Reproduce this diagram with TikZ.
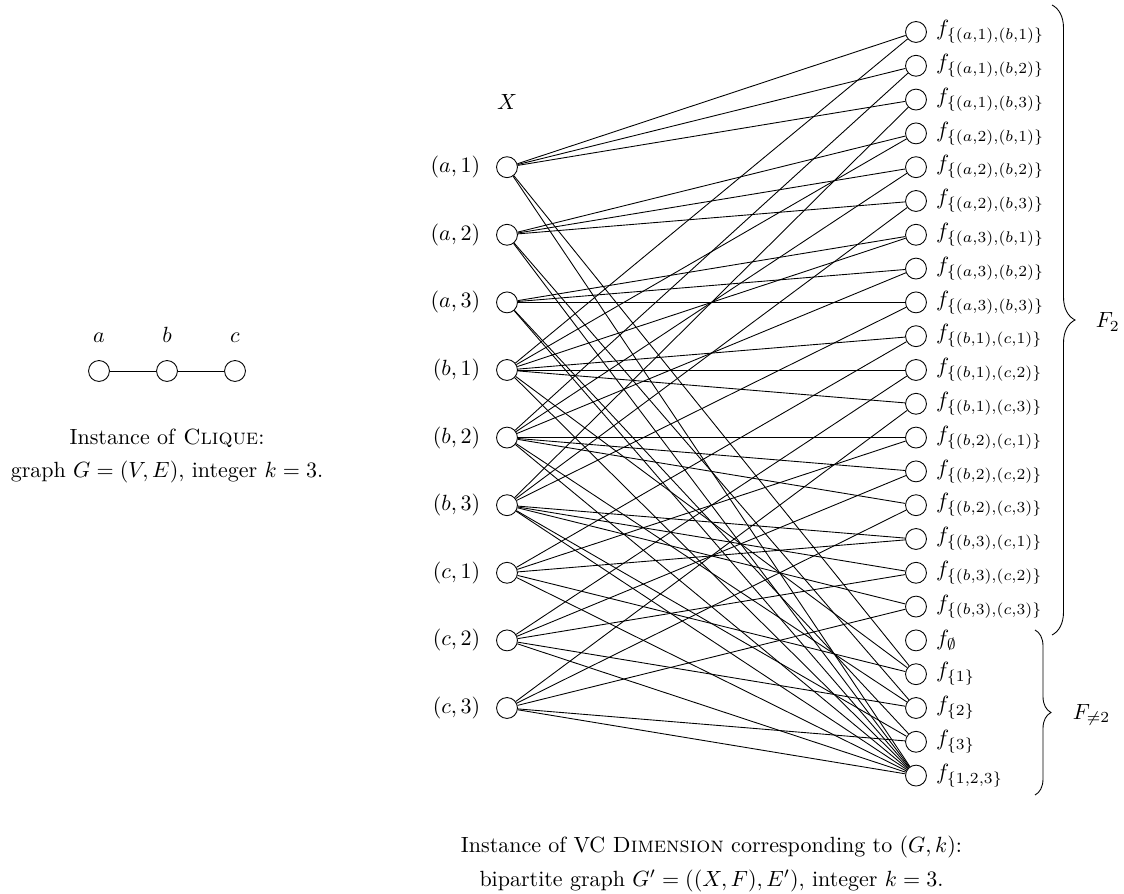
\documentclass[tikz,border=0pt]{standalone}
\usetikzlibrary{decorations.pathreplacing}
\begin{document}
\begin{tikzpicture}[x=0.4545pt,y=-0.4545pt,
  vert/.style={draw,circle,minimum size=9.5pt,inner sep=0pt},
  xlbl/.style={label distance=3.7pt},
  flbl/.style={label distance=0.7pt},
  glbl/.style={label distance=4.6pt},
  bracedeco/.style={decorate,decoration={brace,amplitude=#1}},
]
\useasboundingbox (0,0) rectangle (1124,894);

% ---- left: CLIQUE instance
\node[vert,label={[glbl]above:$a$}] (ga) at (99,371) {};
\node[vert,label={[glbl]above:$b$}] (gb) at (167,371) {};
\node[vert,label={[glbl]above:$c$}] (gc) at (235,371) {};
\draw (ga) -- (gb) -- (gc);
\node[align=center] (cap1) at (167,456)
  {Instance of \textsc{Clique}:\\[3pt] graph $G=(V,E)$, integer $k=3$.};

% ---- X side
\node (xlab) at (507,102) {$X$};
\foreach \c/\i/\r in {a/1/4,a/2/6,a/3/8,b/1/10,b/2/12,b/3/14,c/1/16,c/2/18,c/3/20}{
  \node[vert,label={[xlbl]left:$(\c,\i)$}] (\c\i) at (507,{32+33.8*\r}) {};
}

% ---- F_2 side
\foreach \u/\v/\k in {a/b/0,b/c/9}{
  \foreach \i in {1,2,3}{
    \foreach \j in {1,2,3}{
      \pgfmathsetmacro\r{\k+3*(\i-1)+\j-1}
      \node[vert,label={[flbl]right:$f_{\{(\u,\i),(\v,\j)\}}$}] (f\u\i\v\j) at (916,{32+33.8*\r}) {};
      \draw (\u\i) -- (f\u\i\v\j);
      \draw (\v\j) -- (f\u\i\v\j);
    }
  }
}

% ---- F_{\neq 2} side
\node[vert,label={[flbl]right:$f_\emptyset$}] (fe) at (916,{32+33.8*18}) {};
\node[vert,label={[flbl]right:$f_{\{1\}}$}] (f1) at (916,{32+33.8*19}) {};
\node[vert,label={[flbl]right:$f_{\{2\}}$}] (f2) at (916,{32+33.8*20}) {};
\node[vert,label={[flbl]right:$f_{\{3\}}$}] (f3) at (916,{32+33.8*21}) {};
\node[vert,label={[flbl]right:$f_{\{1,2,3\}}$}] (f123) at (916,{32+33.8*22}) {};
\foreach \i in {1,2,3}{
  \foreach \c in {a,b,c}{
    \draw (\c\i) -- (f\i);
    \draw (\c\i) -- (f123);
  }
}

% ---- braces
\coordinate (btwotop) at (1052,5);
\coordinate (btwobot) at (1052,635);
\draw[bracedeco=10.45pt] (btwotop) -- (btwobot);
\node[anchor=west] (Ftwo) at (1088,322) {$F_2$};
\coordinate (bnetop) at (1035,630);
\coordinate (bnebot) at (1035,795);
\draw[bracedeco=7.27pt] (bnetop) -- (bnebot);
\node[anchor=west] (Fne) at (1065,715) {$F_{\neq 2}$};

% ---- bottom caption
\node[align=center] (cap2) at (711.5,864)
  {Instance of VC \textsc{Dimension} corresponding to $(G,k)$:\\[3pt]
   bipartite graph $G'=((X,F),E')$, integer $k=3$.};
\end{tikzpicture}
\end{document}
